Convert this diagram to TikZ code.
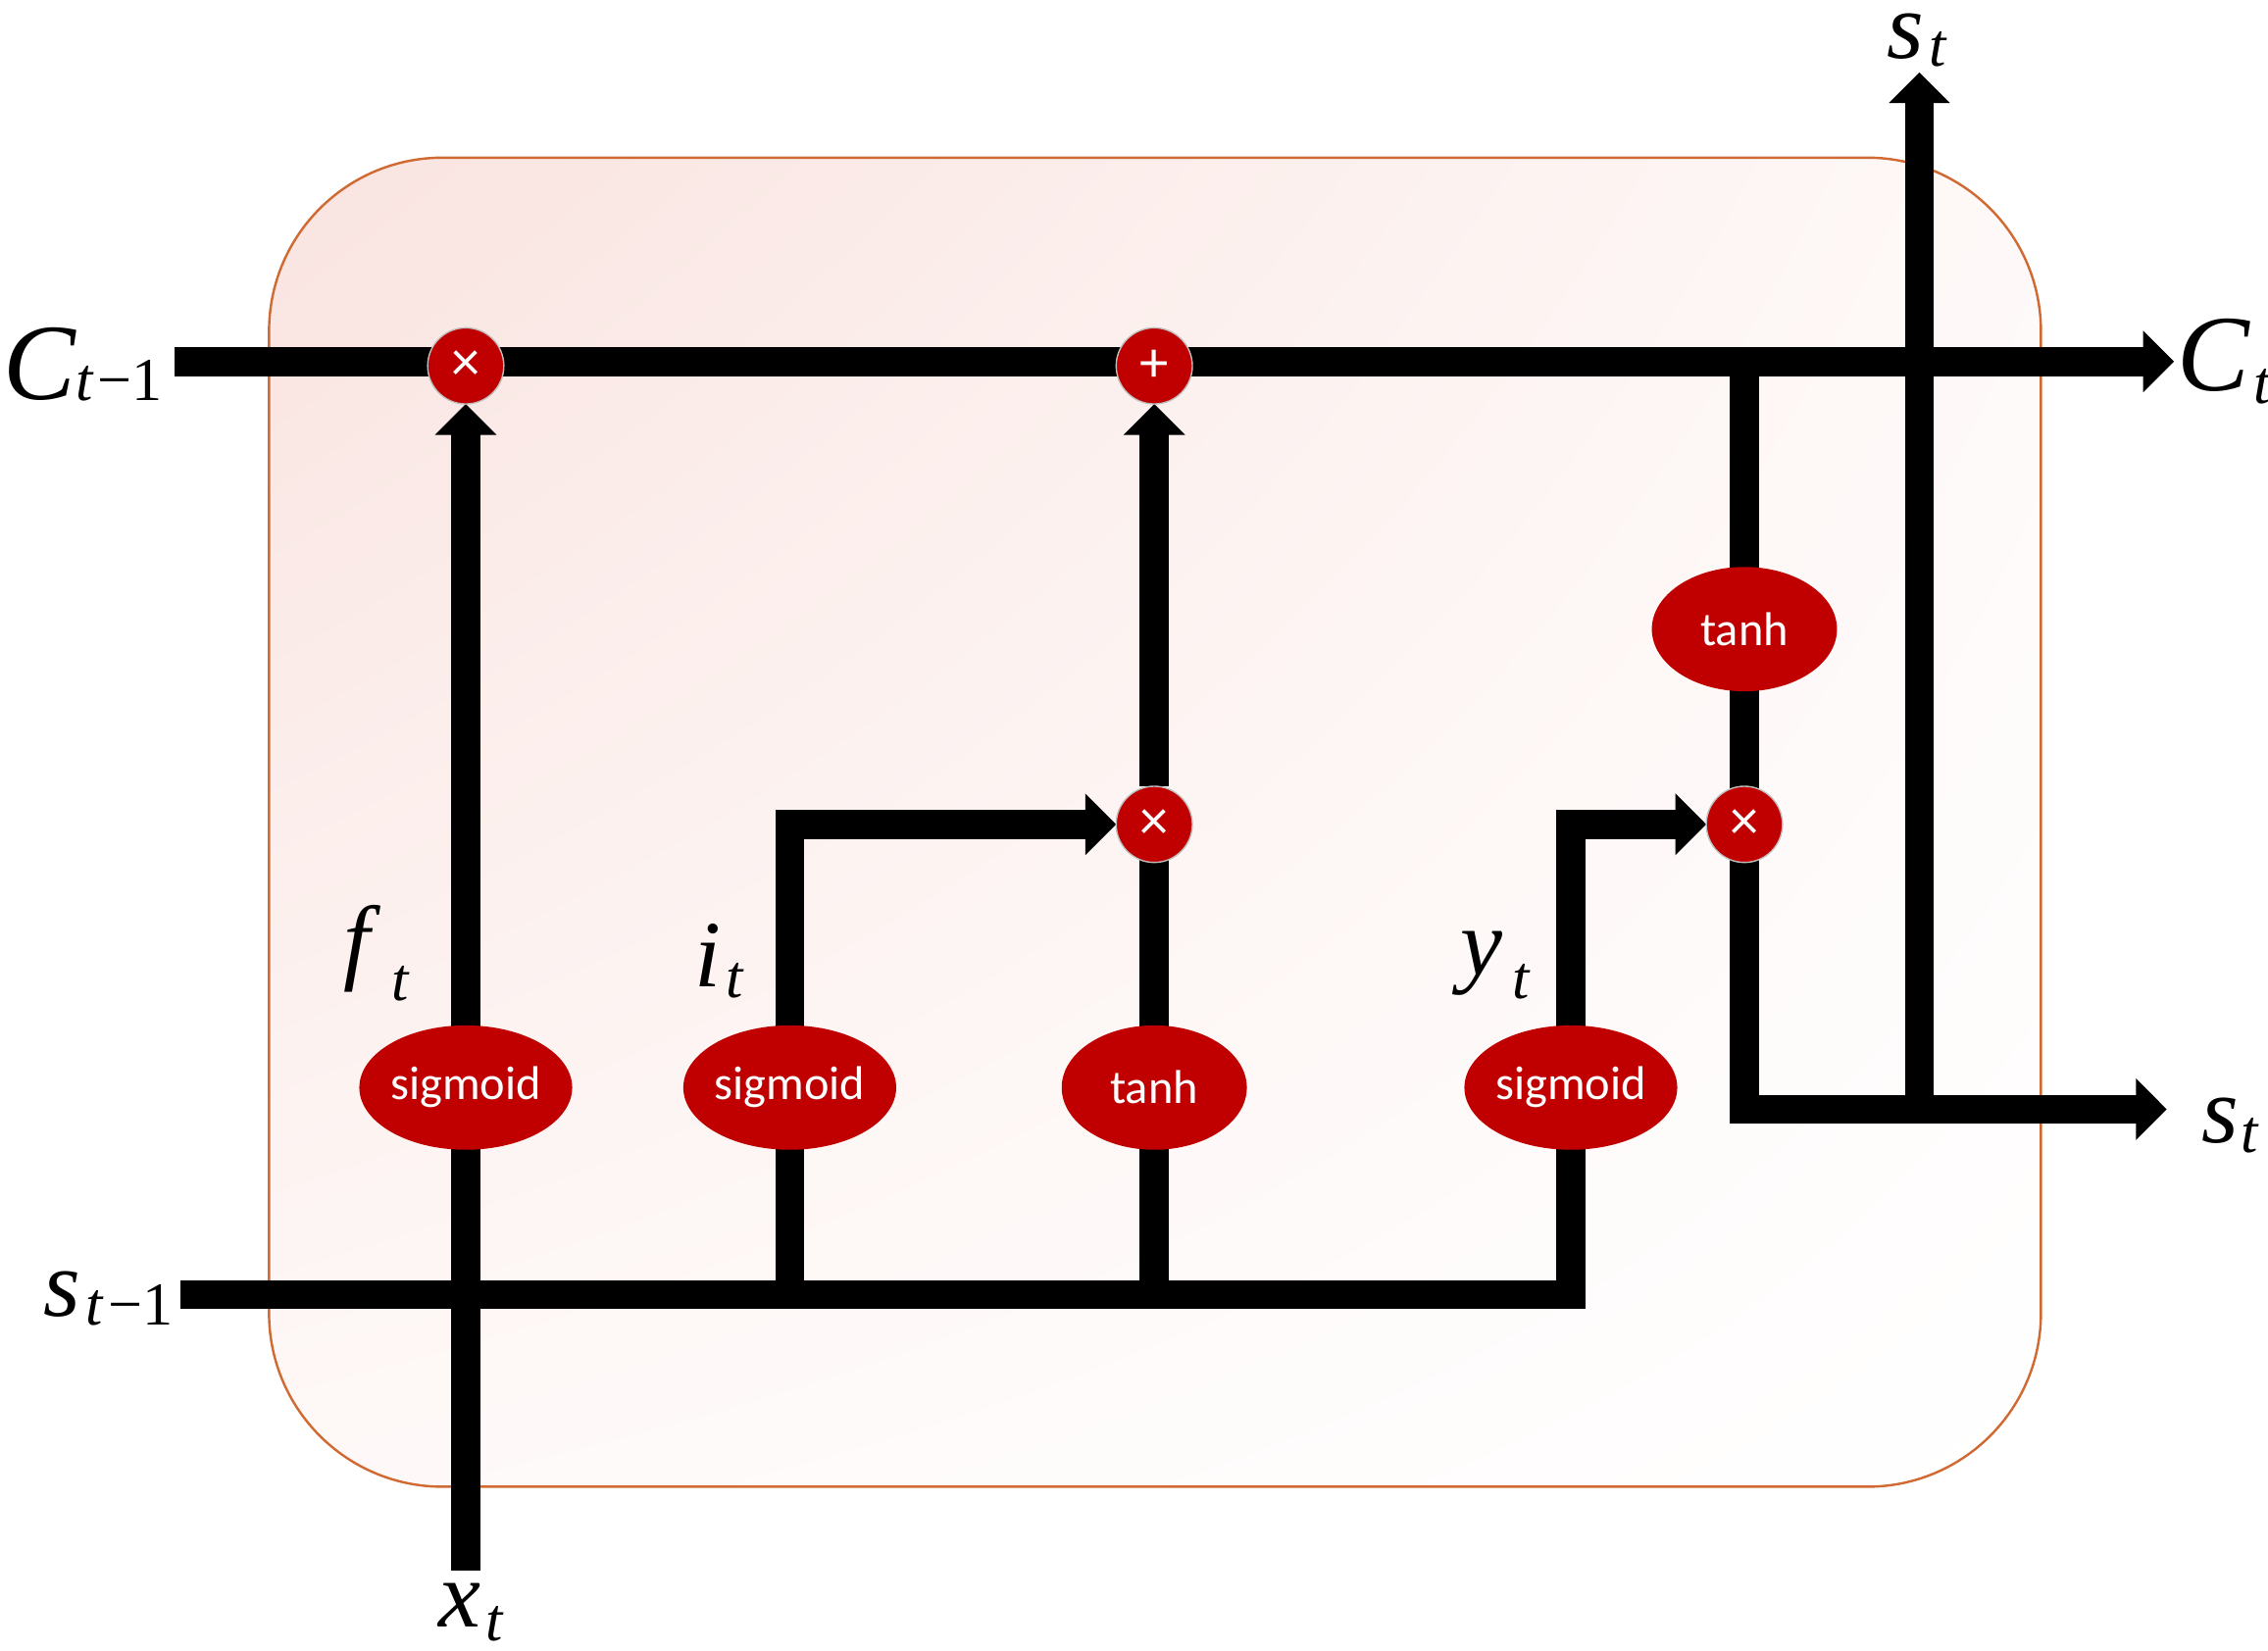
\documentclass[tikz,border=0pt]{standalone}
\usepackage{fontspec}
\setmainfont{Liberation Serif}
\newfontfamily\tnr{Liberation Serif}
\newfontfamily\calib{Carlito}
\usetikzlibrary{arrows.meta,shapes.geometric,shadings}
\pgfdeclarelayer{bg}
\pgfdeclarelayer{wires}
\pgfsetlayers{bg,wires,main}
\definecolor{gred}{HTML}{C00000}
\definecolor{framec}{HTML}{D06A32}
\definecolor{pinkA}{HTML}{F9E3DF}
\definecolor{pinkB}{HTML}{FEF9F8}
\newcommand{\subsz}{\fontsize{18}{18}\selectfont}
\newcommand{\bigsz}{\fontsize{32}{32}\selectfont}
\begin{document}
\begin{tikzpicture}[x=0.015cm,y=-0.015cm,
  wire/.style={line width=0.3cm, line join=miter, line cap=butt},
  arr/.style={wire, -{Triangle[width=0.62cm,length=0.32cm]}},
  op/.style={circle, fill=gred, draw=gray!50, line width=0.4pt, minimum size=0.79cm, inner sep=0pt, outer sep=0pt, text=white, font=\calib\fontsize{17}{17}\selectfont},
  act/.style={ellipse, fill=gred, minimum width=2.01cm, minimum height=1.29cm, inner sep=0pt, outer sep=0pt, text=white, font=\calib\fontsize{14}{14}\selectfont},
  actn/.style={act, minimum width=1.92cm},
  lbl/.style={inner sep=0pt, anchor=base west, font=\tnr\fontsize{28}{28}\selectfont\itshape}]
\useasboundingbox (0,0) rectangle (1568,1141);

% background frame
\begin{pgfonlayer}{bg}
  \shade[rounded corners=1.8cm, upper left=pinkA, upper right=pinkB, lower left=pinkB, lower right=white]
    (186,109) rectangle (1411,1028);
  \draw[framec, line width=0.7pt, rounded corners=1.8cm] (186,109) rectangle (1411,1028);
\end{pgfonlayer}

% operator and activation nodes
\node[op] (m1) at (322,253) {×};
\node[op] (add) at (798,253) {+};
\node[op] (m2) at (798,570) {×};
\node[op] (m3) at (1206,570) {×};
\node[act] (sf) at (322,752) {sigmoid};
\node[act] (si) at (546,752) {sigmoid};
\node[actn] (tc) at (798,752) {tanh};
\node[act] (so) at (1086,752) {sigmoid};
\node[actn] (th) at (1206,435) {tanh};

% free ends
\coordinate (cin) at (121,250);
\coordinate (cout) at (1503,250);
\coordinate (sin) at (125,895);
\coordinate (scorner) at (1086,895);
\coordinate (xin) at (322,1086);
\coordinate (ctap) at (1206,250);
\coordinate (stap) at (1327,767);
\coordinate (stop) at (1327,50);
\coordinate (sout) at (1498,767);

\begin{pgfonlayer}{wires}
  \draw[arr] (cin) -- (cout);
  \draw[arr] (xin) -- (m1);
  \draw[wire] (sin) -- (scorner) -- (so.center);
  \draw[wire] (si.center) -- (si.center |- sin);
  \draw[arr] (si.center) |- (m2);
  \draw[wire] (tc.center) -- (tc.center |- sin);
  \draw[wire] (tc.center) -- (m2.center);
  \draw[arr] (m2) -- (add);
  \draw[arr] (so.center) |- (m3);
  \draw[wire] (th.center) -- (ctap);
  \draw[wire] (th.center) -- (m3.center);
  \draw[arr] (m3.center) |- (sout);
  \draw[arr] (stap) -- (stop);
\end{pgfonlayer}

% labels
\node[lbl] (lC0) at (2,276) {{\bigsz C}\raisebox{-0.5pt}{\subsz t\kern1.5pt\textup{−1}}};
\node[lbl] (lC1) at (1505,270) {{\bigsz C}\kern1pt\raisebox{-3.8pt}{\subsz t}};
\node[lbl] (lS0) at (30,910) {s\kern1.5pt\raisebox{-2.5pt}{\subsz t\kern1.5pt\textup{−1}}};
\node[lbl] (lX) at (303,1125) {x\kern1.5pt\raisebox{-4pt}{\subsz t}};
\node[lbl] (lF) at (237,672) {f\kern6.4pt\raisebox{-8.5pt}{\subsz t}};
\node[lbl] (lI) at (480,682) {i\kern1.5pt\raisebox{-3.4pt}{\subsz t}};
\node[lbl] (lY) at (1009,674) {y\kern3pt\raisebox{-7pt}{\subsz t}};
\node[lbl] (lS1) at (1304,40) {s\kern1.5pt\raisebox{-2.5pt}{\subsz t}};
\node[lbl] (lS2) at (1522,790) {s\kern0.5pt\raisebox{-3pt}{\subsz t}};
\end{tikzpicture}
\end{document}
